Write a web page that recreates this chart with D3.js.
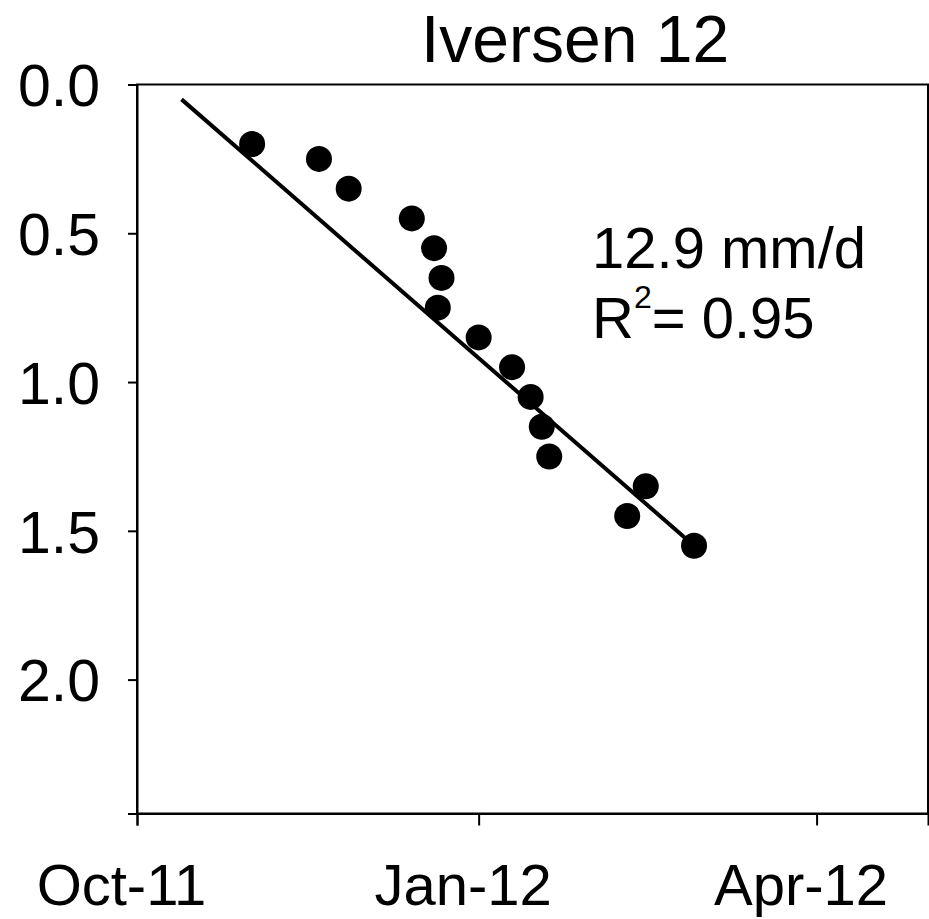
<!DOCTYPE html>
<html>
<head>
<meta charset="utf-8">
<script src="https://cdn.jsdelivr.net/npm/d3@7"></script>
<style>
  html, body { margin: 0; padding: 0; background: #fff; }
  svg { display: block; font-family: "Liberation Sans", Arial, sans-serif; }
</style>
</head>
<body>
<svg id="chart" width="929" height="919"></svg>
<script>
// ---- data ----
const title = "Iversen 12";
const dates = ["2011-11-01","2011-11-19","2011-11-27","2011-12-14","2011-12-20","2011-12-22","2011-12-21",
               "2012-01-01","2012-01-10","2012-01-15","2012-01-18","2012-01-20","2012-02-15","2012-02-10","2012-02-28"];
const depths = [0.20,0.25,0.35,0.45,0.55,0.65,0.75,0.85,0.95,1.05,1.15,1.25,1.35,1.45,1.55];
const trendDates = ["2011-10-13","2012-02-28"];
const trendDepths = [0.05,1.55];
const yTicks = [0.0,0.5,1.0,1.5,2.0];
const xTicks = ["2011-10-01","2012-01-01","2012-04-01"];
const xDomain = ["2011-10-01","2012-05-01"];
const yDomain = [0, 2.45];
const annotRate = "12.9 mm/d";
const annotR2 = "0.95";

// ---- chart ----
const parse = d3.utcParse("%Y-%m-%d");
const svg = d3.select("#chart");
const L = 137, R = 928, T = 84.5, B = 813.5;
const FONT = "'Liberation Sans', Arial, sans-serif";

const x = d3.scaleUtc().domain(xDomain.map(parse)).range([L, R]);
const y = d3.scaleLinear().domain(yDomain).range([T, B]);

// frame
svg.append("rect").attr("x", L).attr("y", T).attr("width", R - L).attr("height", B - T)
  .attr("fill", "none").attr("stroke", "#000").attr("stroke-width", 2);

// y axis
const yAxis = svg.append("g").attr("transform", `translate(${L},0)`)
  .call(d3.axisLeft(y).tickValues(yTicks).tickFormat(d3.format(".1f")).tickSize(9).tickPadding(28));
yAxis.select(".domain").attr("stroke-width", 2);
yAxis.selectAll(".tick line").attr("stroke-width", 2);
yAxis.selectAll("text").attr("font-size", 59).attr("fill", "#000")
  .attr("font-family", FONT).attr("dy", "0.36em");

// x axis
const xAxis = svg.append("g").attr("transform", `translate(0,${B})`)
  .call(d3.axisBottom(x).tickValues(xTicks.map(parse)).tickFormat(d3.utcFormat("%b-%y")).tickSize(12));
xAxis.select(".domain").attr("stroke-width", 2);
xAxis.selectAll(".tick line").attr("stroke-width", 2);
xAxis.selectAll("text").attr("font-size", 58).attr("fill", "#000")
  .attr("font-family", FONT).attr("y", 91).attr("dy", 0).attr("dx", -16);

// trend line
const line = d3.line().x(d => x(d[0])).y(d => y(d[1]));
svg.append("path")
  .datum(trendDates.map((d, i) => [parse(d), trendDepths[i]]))
  .attr("d", line).attr("fill", "none").attr("stroke", "#000").attr("stroke-width", 4);

// points
svg.append("g").selectAll("circle")
  .data(dates.map((d, i) => [parse(d), depths[i]]))
  .join("circle")
  .attr("cx", d => x(d[0])).attr("cy", d => y(d[1])).attr("r", 13).attr("fill", "#000");

// title
svg.append("text").attr("x", 575).attr("y", 62).attr("text-anchor", "middle")
  .attr("font-size", 66).attr("fill", "#000").text(title);

// annotation
svg.append("text").attr("x", 592).attr("y", 268).attr("font-size", 58).attr("fill", "#000").text(annotRate);
const t2 = svg.append("text").attr("x", 592).attr("y", 338).attr("font-size", 58).attr("fill", "#000");
t2.append("tspan").text("R");
t2.append("tspan").attr("font-size", 32).attr("dy", -30).text("2");
t2.append("tspan").attr("dy", 30).text("= " + annotR2);
</script>
</body>
</html>
